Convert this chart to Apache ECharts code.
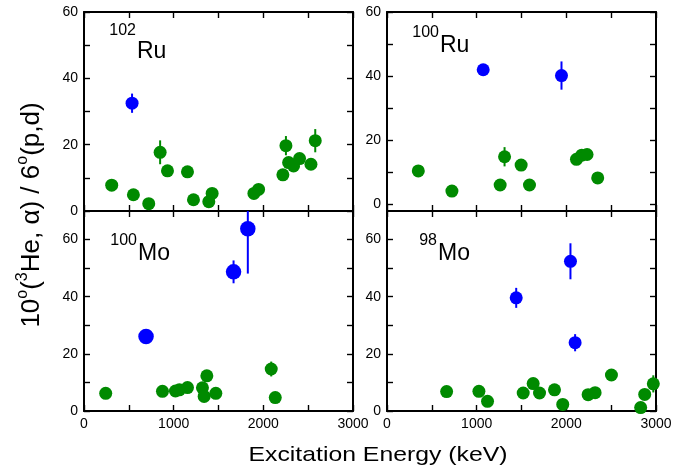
<!DOCTYPE html>
<html>
<head>
<meta charset="utf-8">
<script src="https://cdn.jsdelivr.net/npm/echarts@6/dist/echarts.min.js"></script>
<style>html,body{margin:0;padding:0;background:#fff;}#c{width:675px;height:472px;}</style>
</head>
<body>
<div id="c"></div>
<script>
// ---- Data: [excitation energy (keV), ratio, error] ----
const ru102Green = [[309,7.8,0],[551,4.9,0],[722,2.2,0],[849,17.7,3.6],[931,12.1,0],[1154,11.8,0],[1221,3.4,0],[1392,2.8,0],[1429,5.3,0],[1895,5.3,0],[1947,6.5,0],[2218,10.9,0],[2252,19.7,2.9],[2282,14.6,0],[2337,13.6,0],[2404,15.8,0],[2531,14.1,0],[2579,21.2,3.5]];
const ru102Blue  = [[536,32.5,2.9]];
const ru100Green = [[349,10.5,0],[724,4.2,0],[1262,6.1,0],[1311,14.9,3.0],[1496,12.3,0],[1589,6.1,0],[2113,14.1,0],[2172,15.4,0],[2231,15.6,0],[2350,8.3,0]];
const ru100Blue  = [[1073,42.0,0],[1946,40.2,4.4]];
const mo100Green = [[242,6.2,0],[875,6.9,0],[1020,7.0,0],[1064,7.4,0],[1154,8.2,0],[1321,8.1,0],[1340,5.1,0],[1370,12.3,0],[1470,6.2,0],[2088,14.7,2.6],[2133,4.7,0]];
const mo100Blue  = [[692,26.1,0],[1668,48.7,4.0],[1827,63.8,15.7]];
const mo98Green  = [[665,6.8,0],[1025,6.9,0],[1121,3.4,0],[1519,6.3,0],[1630,9.6,0],[1701,6.3,0],[1868,7.4,0],[1960,2.3,0],[2243,5.7,0],[2321,6.4,0],[2503,12.6,0],[2829,1.2,0],[2874,5.8,0],[2970,9.5,3.0]];
const mo98Blue   = [[1441,39.6,3.5],[2046,52.4,6.3],[2098,23.9,3.0]];

const xTickValues = [0,500,1000,1500,2000,2500,3000];
const xLabelValues = [0,1000,2000,3000];
const yTickValues = [0,10,20,30,40,50,60];
const yLabelValues = [0,20,40,60];

const panelNames = [['102','Ru'],['100','Ru'],['100','Mo'],['98','Mo']];
// ---------------------------------------------------

const GREEN = '#008a00', BLUE = '#0000ff';
const FONT = 'Liberation Sans, Arial, Helvetica, sans-serif';

const grids = [
  {left:84, top:12, width:269, height:199},
  {left:387, top:12, width:269, height:199},
  {left:84, top:211, width:269, height:200},
  {left:387, top:211, width:269, height:200}
];
const yRanges = [[0,60],[-2,60],[0,70],[0,70]];

const lineStyle = {color:'#000', width:2};
const tickStyle = {color:'#000', width:1.4};

const xAxis = [], yAxis = [];
grids.forEach((g,i)=>{
  const bottomRow = i >= 2;
  xAxis.push({type:'value', gridIndex:i, min:0, max:3000, position:'bottom',
    axisLine:{show:true, onZero:false, lineStyle},
    axisTick:{show:true, inside:true, length:6, lineStyle:tickStyle, customValues:xTickValues},
    axisLabel:{show:bottomRow, customValues:xLabelValues, margin:6, color:'#000', fontSize:14, fontFamily:FONT,
      formatter:v=>String(v)},
    splitLine:{show:false}});
  xAxis.push({type:'value', gridIndex:i, min:0, max:3000, position:'top',
    axisLine:{show:true, onZero:false, lineStyle},
    axisTick:{show:true, inside:true, length:6, lineStyle:tickStyle, customValues:xTickValues},
    axisLabel:{show:false}, splitLine:{show:false}});
  yAxis.push({type:'value', gridIndex:i, min:yRanges[i][0], max:yRanges[i][1], position:'left',
    axisLine:{show:true, onZero:false, lineStyle},
    axisTick:{show:true, inside:true, length:6, lineStyle:tickStyle, customValues:yTickValues},
    axisLabel:{show:true, customValues:yLabelValues, margin:6, color:'#000', fontSize:14, fontFamily:FONT,
      formatter:v=>String(v)},
    splitLine:{show:false}});
  yAxis.push({type:'value', gridIndex:i, min:yRanges[i][0], max:yRanges[i][1], position:'right',
    axisLine:{show:true, onZero:false, lineStyle},
    axisTick:{show:true, inside:true, length:6, lineStyle:tickStyle, customValues:yTickValues},
    axisLabel:{show:false}, splitLine:{show:false}});
});

function errRender(color){
  return function(params, api){
    const x = api.value(0), y = api.value(1), e = api.value(2);
    if (!e) return null;
    const p1 = api.coord([x, y - e]), p2 = api.coord([x, y + e]);
    return {type:'line', shape:{x1:p1[0], y1:p1[1], x2:p2[0], y2:p2[1]},
      style:{stroke:color, lineWidth:2}};
  };
}

const panelData = [
  [ru102Green, ru102Blue, 13],
  [ru100Green, ru100Blue, 13],
  [mo100Green, mo100Blue, 15.5],
  [mo98Green, mo98Blue, 13]
];

const series = [];
panelData.forEach((pd,i)=>{
  const xi = i*2, yi = i*2;
  [[pd[0], GREEN, 13],[pd[1], BLUE, pd[2]]].forEach(([data,color,size])=>{
    series.push({type:'custom', xAxisIndex:xi, yAxisIndex:yi, data, clip:true, z:2,
      renderItem: errRender(color), encode:{x:0,y:1}, silent:true});
    series.push({type:'scatter', xAxisIndex:xi, yAxisIndex:yi, data, symbol:'circle',
      symbolSize:size, itemStyle:{color, opacity:1}, clip:false, z:3, silent:true});
  });
});

const labelPos = [
  {sy:31, mx:137, my:52},
  {sy:33, mx:440, my:46},
  {sy:241, mx:138, my:254},
  {sy:241, mx:438, my:254}
];
const graphic = [];
panelNames.forEach((n,i)=>{
  const p = labelPos[i];
  graphic.push({type:'text', x:p.mx - 1, y:p.sy, z:10,
    style:{text:n[0], font:'16px '+FONT, fill:'#000', textAlign:'right', textVerticalAlign:'middle'}});
  graphic.push({type:'text', x:p.mx, y:p.my, z:10,
    style:{text:n[1], font:'23px '+FONT, fill:'#000', textAlign:'left', textVerticalAlign:'middle'}});
});
graphic.push({type:'text', x:378, y:455, scaleX:1.18, z:10,
  style:{text:'Excitation Energy (keV)', font:'21px '+FONT, fill:'#000', textAlign:'center', textVerticalAlign:'middle'}});
graphic.push({type:'text', x:30, y:215, rotation:Math.PI/2, z:10,
  style:{text:'{m|10}{s|o}{m|(}{s|3}{m|He, α) / 6}{s|o}{m|(p,d)}',
    textAlign:'center', textVerticalAlign:'middle',
    rich:{
      m:{fontSize:26, fontFamily:FONT, color:'#000', lineHeight:30, verticalAlign:'bottom'},
      s:{fontSize:16, fontFamily:FONT, color:'#000', lineHeight:30, verticalAlign:'top'}
    }}});

const chart = echarts.init(document.getElementById('c'), null, {renderer:'canvas'});
chart.setOption({
  animation:false,
  backgroundColor:'#fff',
  grid: grids.map(g=>Object.assign({containLabel:false, outerBoundsMode:'none'}, g)),
  xAxis, yAxis, series, graphic
});
</script>
</body>
</html>
